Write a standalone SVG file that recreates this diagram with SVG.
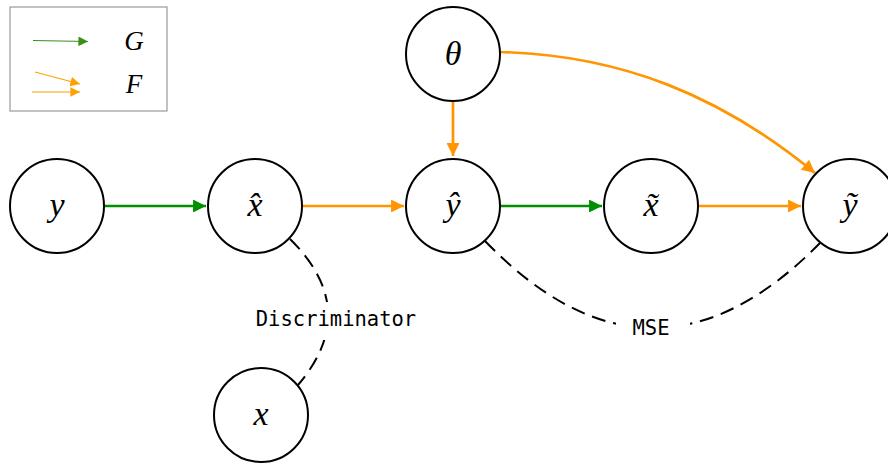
<svg xmlns="http://www.w3.org/2000/svg" width="888" height="464" viewBox="0 0 888 464">
<style>
.node circle{fill:#fff;stroke:#000;stroke-width:2}
.lbl{font-family:"Liberation Serif","DejaVu Serif",serif;font-style:italic;font-size:34px;text-anchor:middle}
.leg{font-family:"Liberation Serif","DejaVu Serif",serif;font-style:italic;font-size:27px;text-anchor:middle}
.g{stroke:#008f00;stroke-width:2.7;fill:none}
.o{stroke:#ff9500;stroke-width:2.7;fill:none}
.d{stroke:#000;stroke-width:2;fill:none;stroke-dasharray:14 8}
.mono{font-family:"DejaVu Sans Mono",monospace;font-size:20.5px;text-anchor:middle}
</style>
<defs>
<marker id="ag" viewBox="0 0 10 10" refX="10" refY="5" markerWidth="6.2" markerHeight="4.8" markerUnits="strokeWidth" orient="auto"><path d="M0,0L10,5L0,10z" fill="#008f00"/></marker>
<marker id="ao" viewBox="0 0 10 10" refX="10" refY="5" markerWidth="6.2" markerHeight="4.8" markerUnits="strokeWidth" orient="auto"><path d="M0,0L10,5L0,10z" fill="#ff9500"/></marker>
<marker id="lg" viewBox="0 0 10 10" refX="10" refY="5" markerWidth="13" markerHeight="8" markerUnits="strokeWidth" orient="auto"><path d="M0,0L10,5L0,10z" fill="#3a8f1a"/></marker>
<marker id="lo" viewBox="0 0 10 10" refX="10" refY="5" markerWidth="13" markerHeight="8" markerUnits="strokeWidth" orient="auto"><path d="M0,0L10,5L0,10z" fill="#ffa000"/></marker>
</defs>
<g id="legend">
<rect x="10" y="7" width="157" height="104" fill="#fff" stroke="#999" stroke-width="1.2"/>
<line x1="33" y1="40.5" x2="88" y2="41.5" stroke="#3a8f1a" stroke-width="1.2" marker-end="url(#lg)"/>
<line x1="35" y1="72" x2="80" y2="84" stroke="#ffa000" stroke-width="1.2" marker-end="url(#lo)"/>
<line x1="32" y1="92" x2="80" y2="92" stroke="#ffa000" stroke-width="1.2" marker-end="url(#lo)"/>
<text class="leg" x="134" y="50">G</text>
<text class="leg" x="134" y="93">F</text>
</g>
<g id="connectors">
<path class="g" d="M104,206H206" marker-end="url(#ag)"/>
<path class="o" d="M302,206H404" marker-end="url(#ao)"/>
<path class="g" d="M500,206H602" marker-end="url(#ag)"/>
<path class="o" d="M698,206H801" marker-end="url(#ao)"/>
<path class="o" d="M453,101V156" marker-end="url(#ao)"/>
<path class="o" d="M500,52C620,55 720,95 815,173" marker-end="url(#ao)"/>
<path class="d" d="M290,239Q362,310 298,385"/>
<path class="d" d="M485,241Q652,414 820,243"/>
<rect x="252" y="302" width="168" height="38" fill="#fff"/>
<rect x="616" y="312" width="74" height="30" fill="#fff"/>
<text class="mono" x="336" y="326">Discriminator</text>
<text class="mono" x="651" y="335">MSE</text>
</g>
<g id="n_y" class="node"><circle cx="57" cy="206" r="47"/><text class="lbl" x="57" y="216">y</text></g>
<g id="n_xhat" class="node"><circle cx="255" cy="206" r="47"/><text class="lbl" x="255" y="216">x̂</text></g>
<g id="n_yhat" class="node"><circle cx="453" cy="206" r="47"/><text class="lbl" x="453" y="216">ŷ</text></g>
<g id="n_xtilde" class="node"><circle cx="651" cy="206" r="47"/><text class="lbl" x="651" y="216">x̃</text></g>
<g id="n_ytilde" class="node"><circle cx="850" cy="206" r="47"/><text class="lbl" x="850" y="216">ỹ</text></g>
<g id="n_theta" class="node"><circle cx="453" cy="54" r="47"/><text class="lbl" x="453" y="65">θ</text></g>
<g id="n_x" class="node"><circle cx="261" cy="415" r="47"/><text class="lbl" x="261" y="425">x</text></g>
</svg>
